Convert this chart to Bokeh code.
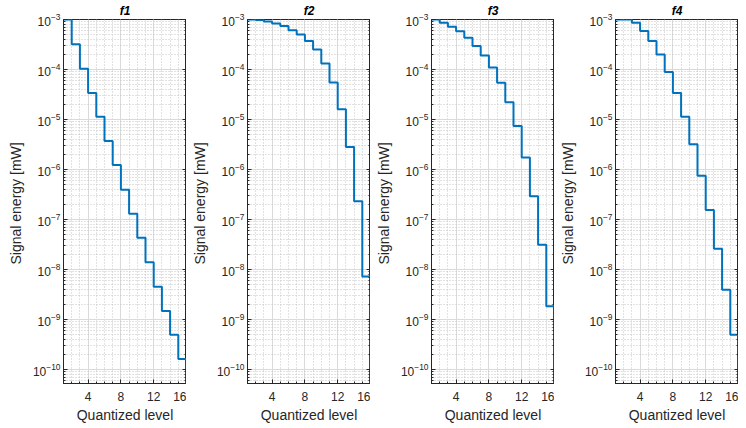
from bokeh.plotting import figure
from bokeh.models import Range1d, FixedTicker, LogAxis, CustomJSTickFormatter, Spacer
from bokeh.layouts import row
from bokeh.embed import file_html
from bokeh.resources import INLINE

# ---- data ----
levels = list(range(1, 17))
f1 = [1e-3, 3.2e-4, 1.03e-4, 3.4e-5, 1.13e-5, 3.7e-6, 1.22e-6, 3.9e-7,
      1.3e-7, 4.3e-8, 1.38e-8, 4.5e-9, 1.47e-9, 4.9e-10, 1.6e-10, 1e-11]
f2 = [1e-3, 9.8e-4, 9.1e-4, 8.3e-4, 7.4e-4, 6.1e-4, 5.0e-4, 3.7e-4,
      2.5e-4, 1.32e-4, 5.5e-5, 1.6e-5, 2.8e-6, 2.3e-7, 7.2e-9, 1e-11]
f3 = [1e-3, 8.6e-4, 7.2e-4, 5.8e-4, 4.3e-4, 2.95e-4, 1.9e-4, 1.1e-4,
      5.4e-5, 2.2e-5, 7.4e-6, 1.74e-6, 2.9e-7, 3.1e-8, 1.82e-9, 1e-11]
f4 = [1e-3, 1e-3, 8.6e-4, 5.9e-4, 3.7e-4, 2.0e-4, 8.9e-5, 3.4e-5,
      1.13e-5, 3.2e-6, 7.5e-7, 1.54e-7, 2.6e-8, 3.9e-9, 4.9e-10, 1e-11]
series = [f1, f2, f3, f4]
titles = ["f1", "f2", "f3", "f4"]
x_major = [4, 8, 12, 16]
x_minor = list(range(1, 17))
y_major = [10.0 ** e for e in range(-10, -2)]
y_minor = [m * 10.0 ** e for e in range(-11, -3) for m in range(2, 10)]
x_label = "Quantized level"
y_label = "Signal  energy [mW]"

FONT = "Liberation Sans"
DARK = "#262626"

figs = []
for i in range(4):
    p = figure(frame_width=123, frame_height=364, y_axis_type="log",
               x_range=Range1d(1, 16), y_range=Range1d(5.2e-11, 1e-3),
               output_backend="svg", toolbar_location=None,
               min_border_left=0, min_border_right=0,
               min_border_top=0, min_border_bottom=0)
    p.title.text = titles[i]
    p.title.align = "center"
    p.title.text_font = FONT
    p.title.text_font_style = "bold italic"
    p.title.text_font_size = "12px"
    p.title.text_color = "black"
    p.title.standoff = 3
    p.title.offset = 0

    p.outline_line_color = DARK
    p.outline_line_width = 1
    p.background_fill_color = "white"
    p.border_fill_color = "white"

    p.xaxis.ticker = FixedTicker(ticks=x_major, minor_ticks=x_minor)
    p.yaxis.ticker = FixedTicker(ticks=y_major, minor_ticks=y_minor)

    for ax in (p.xaxis[0], p.yaxis[0]):
        ax.axis_line_color = DARK
        ax.major_tick_line_color = DARK
        ax.minor_tick_line_color = DARK
        ax.major_tick_in = 4
        ax.major_tick_out = 0
        ax.minor_tick_in = 2
        ax.minor_tick_out = 0
        ax.major_label_text_font = FONT
        ax.major_label_text_font_size = "12px"
        ax.major_label_text_color = DARK
        ax.axis_label_text_font = FONT
        ax.axis_label_text_font_size = "14px"
        ax.axis_label_text_font_style = "normal"
        ax.axis_label_text_color = DARK
    p.xaxis.axis_label = x_label
    p.yaxis.axis_label = y_label
    p.xaxis.major_label_standoff = 8
    p.xaxis.axis_label_standoff = 3
    p.yaxis.major_label_standoff = 3
    p.yaxis.axis_label_standoff = 6

    rax = LogAxis(ticker=FixedTicker(ticks=y_major, minor_ticks=y_minor),
                  formatter=CustomJSTickFormatter(code="return ' '"))
    rax.axis_line_color = DARK
    rax.major_tick_line_color = DARK
    rax.minor_tick_line_color = DARK
    rax.major_tick_in = 4
    rax.major_tick_out = 0
    rax.minor_tick_in = 2
    rax.minor_tick_out = 0
    rax.major_label_text_font_size = "1px"
    rax.major_label_text_alpha = 0
    rax.major_label_standoff = 0
    p.add_layout(rax, "right")

    for g in (p.xgrid[0], p.ygrid[0]):
        g.grid_line_color = "#dadada"
        g.grid_line_width = 1
        g.minor_grid_line_color = "#c4c4c4"
        g.minor_grid_line_dash = "1 2"
        g.minor_grid_line_width = 1

    p.step(levels, series[i], mode="after", line_color="#0072BD", line_width=2)
    figs.append(p)

items = [Spacer(width=4, height=10)]
for i, p in enumerate(figs):
    if i > 0:
        items.append(Spacer(width=2, height=10))
    items.append(p)

layout = row(*items, spacing=0)
open("out.html", "w").write(file_html(layout, INLINE))
